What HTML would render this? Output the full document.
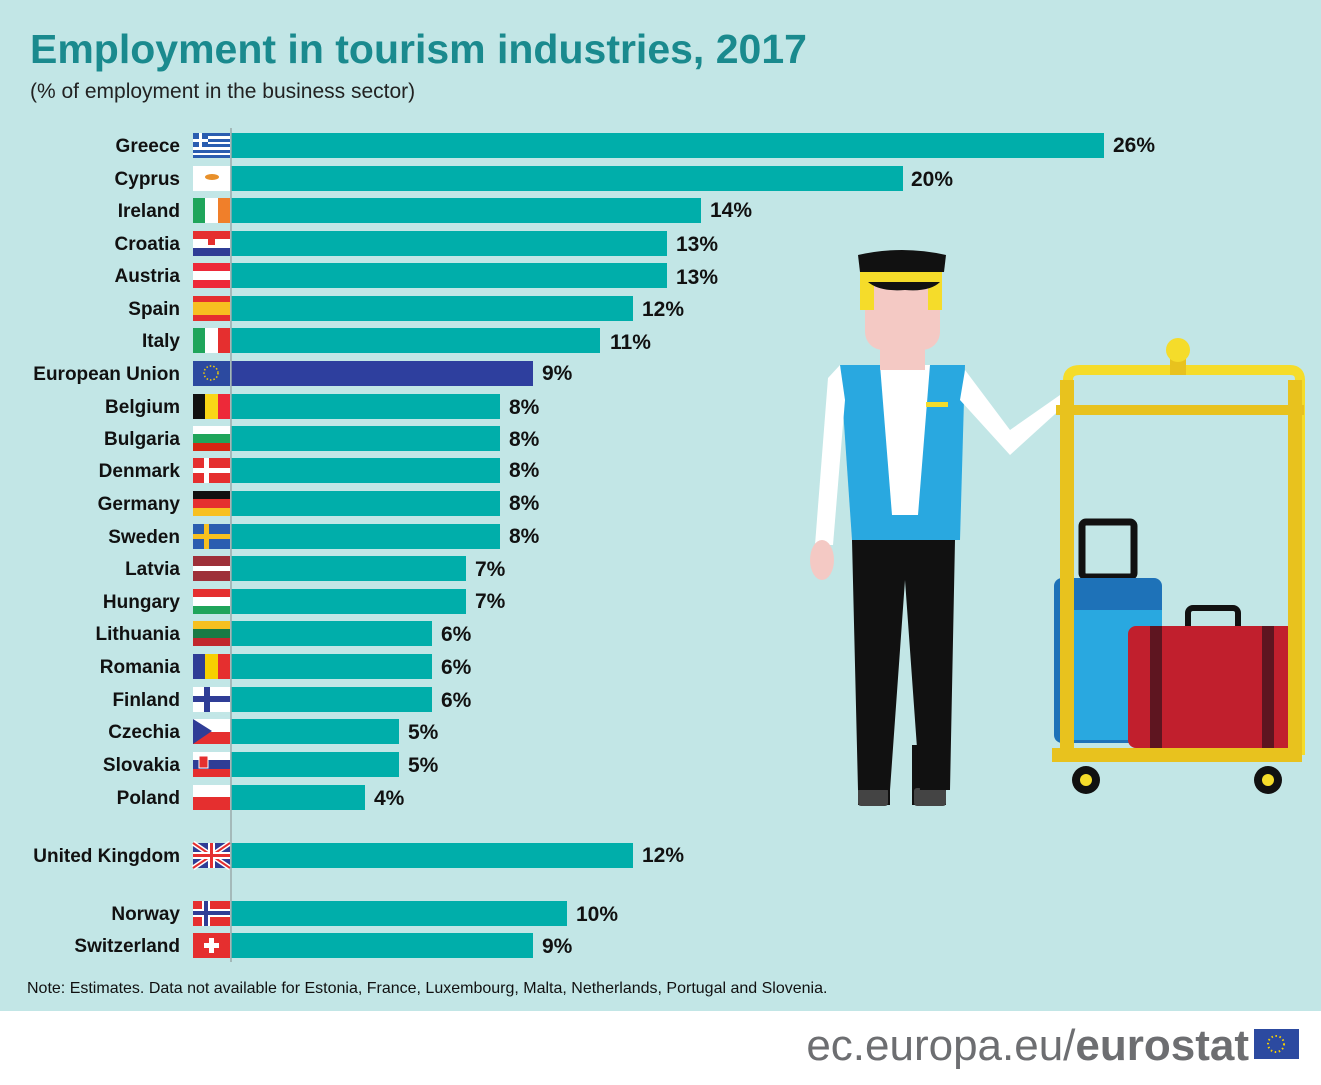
<!DOCTYPE html>
<html><head><meta charset="utf-8"><style>
body{margin:0;width:1321px;height:1080px;overflow:hidden;background:#fff;font-family:"Liberation Sans",sans-serif}
</style></head><body>
<svg width="1321" height="1080" xmlns="http://www.w3.org/2000/svg" font-family="Liberation Sans, sans-serif">
<rect width="1321" height="1011" fill="#c2e6e6"/>
<text x="30" y="63" font-size="41" font-weight="bold" fill="#1a8a8e">Employment in tourism industries, 2017</text>
<text x="30" y="98" font-size="21" fill="#222">(% of employment in the business sector)</text>

<g font-size="19" font-weight="bold" fill="#111" text-anchor="end">
<text x="180" y="152">Greece</text><text x="180" y="185">Cyprus</text><text x="180" y="217">Ireland</text>
<text x="180" y="250">Croatia</text><text x="180" y="282">Austria</text><text x="180" y="315">Spain</text>
<text x="180" y="347">Italy</text><text x="180" y="380">European Union</text><text x="180" y="413">Belgium</text>
<text x="180" y="445">Bulgaria</text><text x="180" y="477">Denmark</text><text x="180" y="510">Germany</text>
<text x="180" y="543">Sweden</text><text x="180" y="575">Latvia</text><text x="180" y="608">Hungary</text>
<text x="180" y="640">Lithuania</text><text x="180" y="673">Romania</text><text x="180" y="706">Finland</text>
<text x="180" y="738">Czechia</text><text x="180" y="771">Slovakia</text><text x="180" y="804">Poland</text>
<text x="180" y="862">United Kingdom</text><text x="180" y="920">Norway</text><text x="180" y="952">Switzerland</text>
</g>

<g fill="#00aeaa">
<rect x="231" y="133" width="873" height="25"/><rect x="231" y="166" width="672" height="25"/>
<rect x="231" y="198" width="470" height="25"/><rect x="231" y="231" width="436" height="25"/>
<rect x="231" y="263" width="436" height="25"/><rect x="231" y="296" width="402" height="25"/>
<rect x="231" y="328" width="369" height="25"/>
<rect x="231" y="394" width="269" height="25"/><rect x="231" y="426" width="269" height="25"/>
<rect x="231" y="458" width="269" height="25"/><rect x="231" y="491" width="269" height="25"/>
<rect x="231" y="524" width="269" height="25"/><rect x="231" y="556" width="235" height="25"/>
<rect x="231" y="589" width="235" height="25"/><rect x="231" y="621" width="201" height="25"/>
<rect x="231" y="654" width="201" height="25"/><rect x="231" y="687" width="201" height="25"/>
<rect x="231" y="719" width="168" height="25"/><rect x="231" y="752" width="168" height="25"/>
<rect x="231" y="785" width="134" height="25"/><rect x="231" y="843" width="402" height="25"/>
<rect x="231" y="901" width="336" height="25"/><rect x="231" y="933" width="302" height="25"/>
</g>
<rect x="231" y="361" width="302" height="25" fill="#2e3f9e"/>

<g font-size="21" font-weight="bold" fill="#111">
<text x="1113" y="152">26%</text><text x="911" y="186">20%</text><text x="710" y="217">14%</text>
<text x="676" y="251">13%</text><text x="676" y="284">13%</text><text x="642" y="316">12%</text>
<text x="610" y="349">11%</text><text x="542" y="380">9%</text><text x="509" y="414">8%</text>
<text x="509" y="446">8%</text><text x="509" y="477">8%</text><text x="509" y="510">8%</text>
<text x="509" y="543">8%</text><text x="475" y="576">7%</text><text x="475" y="608">7%</text>
<text x="441" y="641">6%</text><text x="441" y="674">6%</text><text x="441" y="707">6%</text>
<text x="408" y="739">5%</text><text x="408" y="772">5%</text><text x="374" y="805">4%</text>
<text x="642" y="862">12%</text><text x="576" y="921">10%</text><text x="542" y="953">9%</text>
</g>

<!-- flags -->
<g>
<rect x="193" y="133" width="37" height="25" fill="#fff"/>
<g fill="#2a5db0"><rect x="193" y="133" width="37" height="3"/><rect x="193" y="139" width="37" height="3"/><rect x="193" y="144" width="37" height="3"/><rect x="193" y="150" width="37" height="3"/><rect x="193" y="155" width="37" height="3"/><rect x="193" y="133" width="15" height="14"/></g>
<rect x="199" y="133" width="3" height="14" fill="#fff"/><rect x="193" y="139" width="15" height="3" fill="#fff"/>
<rect x="193" y="166" width="37" height="25" fill="#fff"/><ellipse cx="212" cy="177" rx="7" ry="3" fill="#e8902a"/>
<rect x="193" y="198" width="12" height="25" fill="#1fa55b"/><rect x="205" y="198" width="13" height="25" fill="#fff"/><rect x="218" y="198" width="12" height="25" fill="#f07f2a"/>
<rect x="193" y="231" width="37" height="8" fill="#e52f2f"/><rect x="193" y="239" width="37" height="9" fill="#fff"/><rect x="193" y="248" width="37" height="8" fill="#2f3d96"/><rect x="208" y="236" width="7" height="9" fill="#e52f2f"/>
<rect x="193" y="263" width="37" height="25" fill="#ed2939"/><rect x="193" y="271" width="37" height="9" fill="#fff"/>
<rect x="193" y="296" width="37" height="25" fill="#e52f2f"/><rect x="193" y="302" width="37" height="13" fill="#f7c020"/>
<rect x="193" y="328" width="12" height="25" fill="#1fa55b"/><rect x="205" y="328" width="13" height="25" fill="#fff"/><rect x="218" y="328" width="12" height="25" fill="#e52f2f"/>
<rect x="193" y="361" width="37" height="25" fill="#2c4aa0"/><circle cx="211" cy="373" r="7" fill="none" stroke="#f7d000" stroke-width="1.5" stroke-dasharray="1.5 2"/>
<rect x="193" y="394" width="12" height="25" fill="#111"/><rect x="205" y="394" width="13" height="25" fill="#f9d616"/><rect x="218" y="394" width="12" height="25" fill="#ed2939"/>
<rect x="193" y="426" width="37" height="8" fill="#fff"/><rect x="193" y="434" width="37" height="9" fill="#1fa55b"/><rect x="193" y="443" width="37" height="8" fill="#d62612"/>
<rect x="193" y="458" width="37" height="25" fill="#e52f2f"/><rect x="204" y="458" width="5" height="25" fill="#fff"/><rect x="193" y="468" width="37" height="5" fill="#fff"/>
<rect x="193" y="491" width="37" height="8" fill="#111"/><rect x="193" y="499" width="37" height="9" fill="#e52f2f"/><rect x="193" y="508" width="37" height="8" fill="#f7c020"/>
<rect x="193" y="524" width="37" height="25" fill="#2a5db0"/><rect x="204" y="524" width="5" height="25" fill="#f7c020"/><rect x="193" y="534" width="37" height="5" fill="#f7c020"/>
<rect x="193" y="556" width="37" height="25" fill="#9e3039"/><rect x="193" y="566" width="37" height="5" fill="#fff"/>
<rect x="193" y="589" width="37" height="8" fill="#e52f2f"/><rect x="193" y="597" width="37" height="9" fill="#fff"/><rect x="193" y="606" width="37" height="8" fill="#1fa55b"/>
<rect x="193" y="621" width="37" height="8" fill="#f7c020"/><rect x="193" y="629" width="37" height="9" fill="#1a7a45"/><rect x="193" y="638" width="37" height="8" fill="#c1272d"/>
<rect x="193" y="654" width="12" height="25" fill="#2f3d96"/><rect x="205" y="654" width="13" height="25" fill="#f7d000"/><rect x="218" y="654" width="12" height="25" fill="#e52f2f"/>
<rect x="193" y="687" width="37" height="25" fill="#fff"/><rect x="204" y="687" width="6" height="25" fill="#2f3d96"/><rect x="193" y="696" width="37" height="6" fill="#2f3d96"/>
<rect x="193" y="719" width="37" height="13" fill="#fff"/><rect x="193" y="732" width="37" height="12" fill="#e52f2f"/><polygon points="193,719 212,731 193,744" fill="#2f3d96"/>
<rect x="193" y="752" width="37" height="8" fill="#fff"/><rect x="193" y="760" width="37" height="9" fill="#2f3d96"/><rect x="193" y="769" width="37" height="8" fill="#e52f2f"/><rect x="199" y="756" width="9" height="12" fill="#e52f2f" stroke="#fff"/>
<rect x="193" y="785" width="37" height="12" fill="#fff"/><rect x="193" y="797" width="37" height="13" fill="#e52f2f"/>
<rect x="193" y="843" width="37" height="25" fill="#2f3d96"/><path d="M193 843L230 868M230 843L193 868" stroke="#fff" stroke-width="5"/><path d="M193 843L230 868M230 843L193 868" stroke="#e52f2f" stroke-width="2"/><rect x="193" y="852" width="37" height="7" fill="#fff"/><rect x="208" y="843" width="7" height="25" fill="#fff"/><rect x="193" y="854" width="37" height="3" fill="#e52f2f"/><rect x="210" y="843" width="3" height="25" fill="#e52f2f"/>
<rect x="193" y="901" width="37" height="25" fill="#e52f2f"/><rect x="202" y="901" width="8" height="25" fill="#fff"/><rect x="193" y="909" width="37" height="8" fill="#fff"/><rect x="204" y="901" width="4" height="25" fill="#2f3d96"/><rect x="193" y="911" width="37" height="4" fill="#2f3d96"/>
<rect x="193" y="933" width="37" height="25" fill="#e52f2f"/><rect x="209" y="938" width="5" height="15" fill="#fff"/><rect x="204" y="943" width="15" height="5" fill="#fff"/>
</g>
<line x1="231" y1="128" x2="231" y2="962" stroke="#9aa" stroke-width="1.5"/>

<!-- porter -->
<g>
<rect x="858" y="745" width="32" height="60" fill="#111"/><rect x="912" y="745" width="34" height="60" fill="#111"/>
<rect x="858" y="788" width="30" height="18" rx="3" fill="#444"/><rect x="914" y="788" width="32" height="18" rx="3" fill="#444"/>
<path d="M852 540 H955 L950 790 H920 L905 580 L890 790 H858 Z" fill="#111"/>
<path d="M840 365 H965 L960 540 H852 Z" fill="#29a8e0"/>
<path d="M880 365 H930 L918 515 H892 Z" fill="#fff"/>
<path d="M840 365 L828 378 L815 545 L833 545 L845 400 Z" fill="#fff"/>
<path d="M965 370 L1010 430 L1060 395 L1065 405 L1010 455 L960 400 Z" fill="#fff"/>
<ellipse cx="822" cy="560" rx="12" ry="20" fill="#f4c9c4"/>
<rect x="880" y="330" width="45" height="40" fill="#f4c9c4"/>
<rect x="865" y="265" width="75" height="85" rx="18" fill="#f4c9c4"/>
<rect x="860" y="270" width="14" height="40" fill="#f5dc2a"/><rect x="928" y="270" width="14" height="40" fill="#f5dc2a"/>
<path d="M858 255 Q902 245 946 255 L944 272 H860 Z" fill="#111"/><rect x="866" y="272" width="72" height="10" fill="#f5dc2a"/>
<path d="M868 282 H940 Q930 292 905 290 Q880 292 868 282Z" fill="#111"/>
<rect x="926" y="402" width="22" height="5" fill="#f5dc2a"/>
</g>
<!-- cart -->
<g>
<rect x="1082" y="522" width="52" height="55" rx="4" fill="none" stroke="#111" stroke-width="7"/>
<rect x="1054" y="578" width="108" height="165" rx="8" fill="#1e72b8"/>
<rect x="1070" y="610" width="92" height="130" fill="#29a8e0"/>
<rect x="1188" y="608" width="50" height="28" rx="5" fill="none" stroke="#111" stroke-width="6"/>
<rect x="1128" y="626" width="170" height="122" rx="8" fill="#c11f2d"/>
<rect x="1150" y="626" width="12" height="122" fill="#5e1520"/><rect x="1262" y="626" width="12" height="122" fill="#5e1520"/>
<path d="M1068 400 V380 Q1068 370 1080 370 H1290 Q1300 370 1300 380 V755" fill="none" stroke="#f5dc2a" stroke-width="10"/>
<rect x="1060" y="380" width="14" height="380" fill="#e8c21e"/><rect x="1288" y="380" width="14" height="380" fill="#e8c21e"/>
<rect x="1056" y="405" width="248" height="10" fill="#e8c21e"/>
<rect x="1052" y="748" width="250" height="14" fill="#e8c21e"/>
<rect x="1170" y="355" width="16" height="20" fill="#e8c21e"/><circle cx="1178" cy="350" r="12" fill="#f5dc2a"/>
<circle cx="1086" cy="780" r="14" fill="#111"/><circle cx="1086" cy="780" r="6" fill="#f5dc2a"/>
<circle cx="1268" cy="780" r="14" fill="#111"/><circle cx="1268" cy="780" r="6" fill="#f5dc2a"/>
</g>

<text x="27" y="993" font-size="16" fill="#111">Note: Estimates. Data not available for Estonia, France, Luxembourg,  Malta, Netherlands,  Portugal and Slovenia.</text>
<text x="1249" y="1060" font-size="44" fill="#6d6e71" text-anchor="end">ec.europa.eu/<tspan font-weight="bold">eurostat</tspan></text>
<rect x="1254" y="1029" width="45" height="30" fill="#2c4aa0"/>
<circle cx="1276" cy="1044" r="8" fill="none" stroke="#f7d000" stroke-width="2" stroke-dasharray="1.5 2.6"/>
</svg>
</body></html>
